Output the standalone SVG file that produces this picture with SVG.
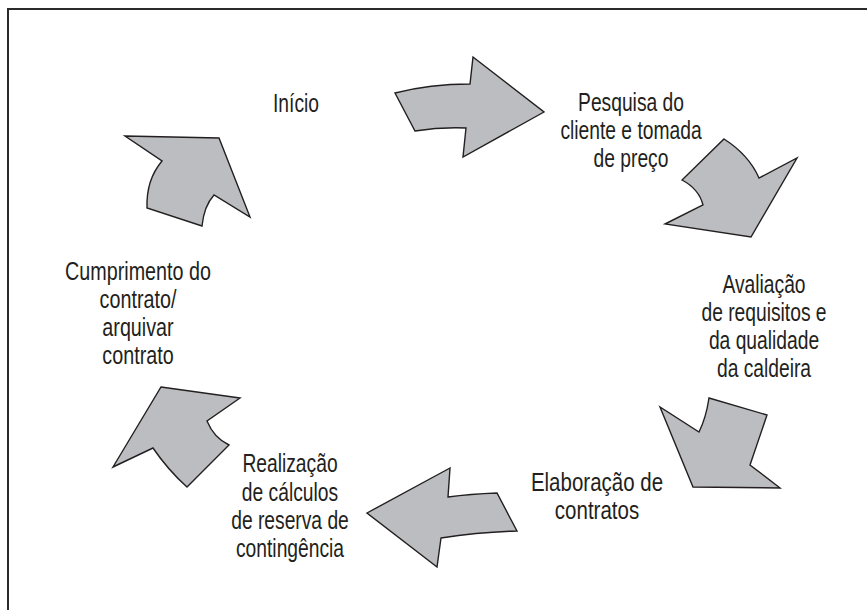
<svg xmlns="http://www.w3.org/2000/svg" width="867" height="610" viewBox="0 0 867 610">
<style>
.arrow{fill:#bcbdc0;stroke:#231f20;stroke-width:1.4;stroke-linejoin:miter}
.lbl{font-family:"Liberation Sans",Arial,sans-serif;font-size:25px;fill:#231f20;text-anchor:middle}
.frame{fill:none;stroke:#2b2b2b;stroke-width:2}
</style>
<rect width="867" height="610" fill="#ffffff"/>
<path class="frame" d="M8,610 L8,9 L867,9"/>
<g id="connectors">
<path id="a1" class="arrow" d="M395,93 Q430,84 470,84 L473,57 L544,112 L463,157 L466,128 Q440,127 415,131 Z"/>
<path id="a2" class="arrow" d="M724,139 Q749,155 759,178 L797,158 L751,237 L665,224 L703,205 Q699,189 682,180 Z"/>
<path id="a3" class="arrow" d="M709,398 L767,415 L750,465 L780,488 L693,487 L660,407 L699,432 Q706,418 709,398 Z"/>
<path id="a4" class="arrow" d="M450,468 L367,513 L437,567 L441,538 Q480,532 517,531 L497,493 Q470,494 448,497 Z"/>
<path id="a5" class="arrow" d="M161,387 L240,398 L207,421 Q214,438 229,445 L187,487 Q168,470 153,448 L113,467 Z"/>
<path id="a6" class="arrow" d="M125,136 L219,138 L250,217 L214,195 Q204,206 202,226 L147,208 Q146,180 162,161 Z"/>
</g>
<g id="n1"><text class="lbl" transform="translate(296,0) scale(0.77,1)" x="0" y="112">Início</text></g>
<g id="n2"><text class="lbl" transform="translate(631,0) scale(0.77,1)" x="0">
<tspan x="0" y="111">Pesquisa do</tspan><tspan x="0" y="139">cliente e tomada</tspan><tspan x="0" y="167">de preço</tspan></text></g>
<g id="n3"><text class="lbl" transform="translate(764,0) scale(0.77,1)" x="0">
<tspan x="0" y="293">Avaliação</tspan><tspan x="0" y="321">de requisitos e</tspan><tspan x="0" y="349">da qualidade</tspan><tspan x="0" y="377">da caldeira</tspan></text></g>
<g id="n4"><text class="lbl" transform="translate(597,0) scale(0.82,1)" x="0">
<tspan x="0" y="491">Elaboração de</tspan><tspan x="0" y="519">contratos</tspan></text></g>
<g id="n5"><text class="lbl" transform="translate(290,0) scale(0.77,1)" x="0">
<tspan x="0" y="472">Realização</tspan><tspan x="0" y="501">de cálculos</tspan><tspan x="0" y="529">de reserva de</tspan><tspan x="0" y="557">contingência</tspan></text></g>
<g id="n6"><text class="lbl" transform="translate(138,0) scale(0.79,1)" x="0">
<tspan x="0" y="280">Cumprimento do</tspan><tspan x="0" y="308">contrato/</tspan><tspan x="0" y="336">arquivar</tspan><tspan x="0" y="364">contrato</tspan></text></g>
</svg>
